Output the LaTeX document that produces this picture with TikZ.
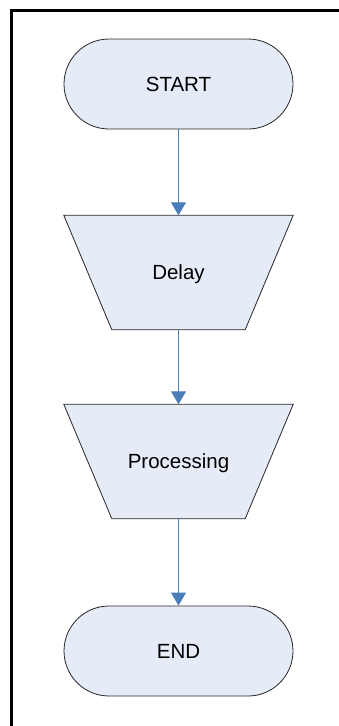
\documentclass[tikz,border=0pt]{standalone}
\usepackage{fontspec}
\setmainfont{Liberation Sans}
\usetikzlibrary{arrows.meta}
\definecolor{boxfill}{HTML}{E6ECF7}
\definecolor{flowblue}{HTML}{4A7EBB}
\tikzset{
  x=1pt, y=-1pt,
  label text/.style={font=\fontsize{20.5}{24}\selectfont},
  terminal/.style={draw=black!85, fill=boxfill, line width=0.8pt,
    rounded corners=45pt, minimum width=229pt, minimum height=90pt,
    inner sep=0pt, label text},
  trapbox/.style={minimum width=229pt, minimum height=114pt,
    inner sep=0pt, label text},
  trapline/.style={draw=black!85, fill=boxfill, line width=0.8pt, line join=miter},
  flow/.style={draw=flowblue, line width=1pt,
    -{Triangle[width=15pt,length=13pt]}},
  frame/.style={line width=3pt, black}
}
\begin{document}
\begin{tikzpicture}
\useasboundingbox (0,0) rectangle (339,726);
% outer frame, left and top edges only
\draw[frame] (11.5,726) -- (11.5,10.5) -- (339,10.5);

\node[terminal] (start) at (178.5,84) {START};

% trapezium boxes: node holds text, outline drawn from its anchors
\node[trapbox] (delay) at (178.5,272.5) {};
\fill[trapline] (delay.north west) -- (delay.north east)
  -- ([xshift=-48pt]delay.south east) -- ([xshift=48pt]delay.south west) -- cycle;
\node[label text] (delaytext) at ([yshift=-2pt]delay.center) {Delay};

\node[trapbox] (proc) at (178.5,461.5) {};
\fill[trapline] (proc.north west) -- (proc.north east)
  -- ([xshift=-48pt]proc.south east) -- ([xshift=48pt]proc.south west) -- cycle;
\node[label text] (proctext) at ([yshift=-2pt]proc.center) {Processing};

\node[terminal] (end) at (178.5,651) {END};

\draw[flow] (start.south) -- (delay.north);
\draw[flow] (delay.south) -- (proc.north);
\draw[flow] (proc.south) -- (end.north);
\end{tikzpicture}
\end{document}
